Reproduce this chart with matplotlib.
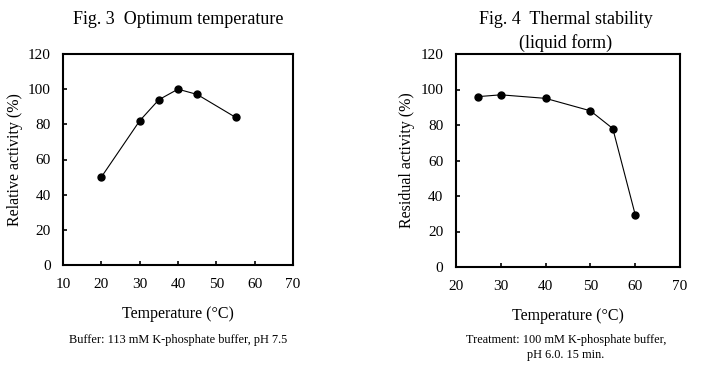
import matplotlib
matplotlib.use('Agg')
import matplotlib.pyplot as plt

# Fig. 3 data
opt_temp = [20, 30, 35, 40, 45, 55]
opt_activity = [50, 82, 94, 100, 97, 84]

# Fig. 4 data
stab_temp = [25, 30, 40, 50, 55, 60]
stab_activity = [96, 97, 95, 88, 78, 29.5]

plt.rcParams['font.family'] = ['Liberation Serif', 'DejaVu Serif']


def style_axes(ax, xticks):
    ax.set_ylim(0, 120)
    ax.set_yticks(range(0, 121, 20))
    ax.set_xlim(xticks[0], xticks[-1])
    ax.set_xticks(xticks)
    ax.tick_params(direction='in', length=3, width=1.2, labelsize=11, pad=9)
    for sp in ax.spines.values():
        sp.set_linewidth(1.5)


fig = plt.figure(figsize=(7.09, 3.73), dpi=100)

# left panel
ax1 = fig.add_axes([63 / 709, 1 - 265 / 373, 230 / 709, 211 / 373])
ax1.plot(opt_temp, opt_activity, color='black', lw=0.8, marker='o', ms=5)
style_axes(ax1, list(range(10, 71, 10)))
ax1.set_xlabel('Temperature (°C)', fontsize=11.5, labelpad=11)
ax1.set_ylabel('Relative activity (%)', fontsize=11.5, labelpad=3)
fig.text(178 / 709, 1 - 20 / 373, 'Fig. 3  Optimum temperature',
         ha='center', va='center', fontsize=13)
fig.text(178 / 709, 1 - 340 / 373, 'Buffer: 113 mM K-phosphate buffer, pH 7.5',
         ha='center', va='center', fontsize=8.8)

# right panel
ax2 = fig.add_axes([456 / 709, 1 - 267 / 373, 224 / 709, 213 / 373])
ax2.plot(stab_temp, stab_activity, color='black', lw=0.8, marker='o', ms=5)
style_axes(ax2, list(range(20, 71, 10)))
ax2.set_xlabel('Temperature (°C)', fontsize=11.5, labelpad=11)
ax2.set_ylabel('Residual activity (%)', fontsize=11.5, labelpad=4)
fig.text(566 / 709, 1 - 19 / 373, 'Fig. 4  Thermal stability',
         ha='center', va='center', fontsize=13)
fig.text(566 / 709, 1 - 43 / 373, '(liquid form)',
         ha='center', va='center', fontsize=13)
fig.text(566 / 709, 1 - 340 / 373, 'Treatment: 100 mM K-phosphate buffer,',
         ha='center', va='center', fontsize=8.8)
fig.text(566 / 709, 1 - 355 / 373, 'pH 6.0. 15 min.',
         ha='center', va='center', fontsize=8.8)

fig.savefig('out.png', dpi=100)
